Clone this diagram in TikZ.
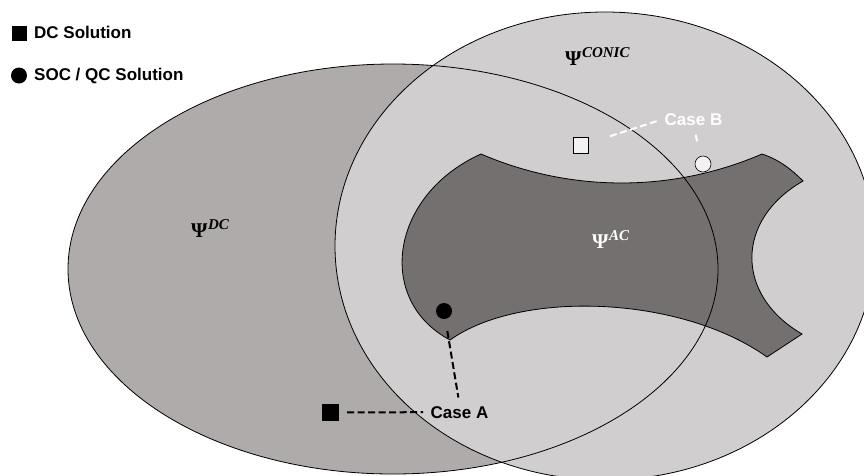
\documentclass[tikz,border=0pt]{standalone}
\usepackage[no-math]{fontspec}
\setmainfont{Liberation Sans}
\newfontfamily\psifont{Liberation Serif}
\definecolor{dcfill}{RGB}{174,171,170}
\definecolor{conicfill}{RGB}{208,206,207}
\definecolor{acfill}{RGB}{116,112,111}
\definecolor{markfill}{RGB}{242,242,242}
% set symbol: bold Psi with a bold italic superscript
\newcommand{\setlbl}[1]{{\fontsize{21}{24}\selectfont Ψ}\kern0.5pt\raisebox{8pt}{\fontsize{15}{17}\selectfont\itshape #1}}
\tikzset{
  region/.style={draw=black,line width=0.8pt},
  lbl/.style={font=\fontsize{17}{20}\selectfont\bfseries,inner sep=1.5pt,anchor=base west},
  setname/.style={font=\psifont\bfseries,inner sep=0pt,anchor=base west},
  sqmark/.style={rectangle,inner sep=0pt,minimum size=#1},
  dotmark/.style={circle,inner sep=0pt,minimum size=#1},
  leader/.style={dash pattern=on 7pt off 3.5pt,line width=2pt}
}
\begin{document}
\begin{tikzpicture}[x=1pt,y=-1pt]
\useasboundingbox (0,0) rectangle (864,475);

% DC set: filled first, outline drawn last so it shows through
\fill[dcfill] (393,269) ellipse [x radius=325, y radius=205];

% conic relaxation set
\draw[region,fill=conicfill] (605,246) ellipse [x radius=270, y radius=234];

% AC feasible set
\draw[region,fill=acfill]
  (481,154) .. controls (570.6,192.6) and (672.4,192.7) .. (762,154)
  .. controls (780,160) and (792,170) .. (803,181)
  .. controls (735,220) and (735,295) .. (802,334)
  -- (767,357)
  .. controls (680,295) and (520,290) .. (450,340)
  .. controls (375,300) and (390,195) .. (481,154) -- cycle;

% DC outline on top
\draw[region] (393,269) ellipse [x radius=325, y radius=205];

% set labels
\node[setname] (psiDC) at (191,237) {\setlbl{DC}};
\node[setname] (psiCONIC) at (565,65) {\setlbl{CONIC}};
\node[setname,text=white] (psiAC) at (592,248) {\setlbl{AC}};

% legend
\node[sqmark=15pt,fill=black] (legSq) at (19.5,33.5) {};
\node[lbl] (legSqTxt) at (32.5,38) {DC Solution};
\node[dotmark=16pt,fill=black] (legDot) at (19,75.5) {};
\node[lbl] (legDotTxt) at (32.5,80) {SOC / QC Solution};

% case A
\node[sqmark=17pt,fill=black] (sqA) at (330.5,412.5) {};
\node[dotmark=16pt,fill=black] (dotA) at (444,311) {};
\node[lbl] (caseA) at (429,418) {Case A};
\draw[leader,shorten <=8pt,shorten >=6pt] (sqA) -- (caseA.west);
\draw[leader,shorten <=12pt,shorten >=7pt] (dotA) -- (caseA.north);

% case B
\node[sqmark=15.5pt,fill=markfill,draw=black,line width=0.6pt] (sqB) at (581,145.5) {};
\node[dotmark=16pt,fill=markfill,draw=black,line width=0.6pt] (dotB) at (703,164) {};
\node[lbl,text=white] (caseB) at (663,125) {Case B};
\draw[leader,white,shorten <=22pt,shorten >=6pt] (sqB) -- (caseB.west);
\draw[leader,white,shorten <=8pt,shorten >=13pt] (caseB.south) -- (dotB);
\end{tikzpicture}
\end{document}
